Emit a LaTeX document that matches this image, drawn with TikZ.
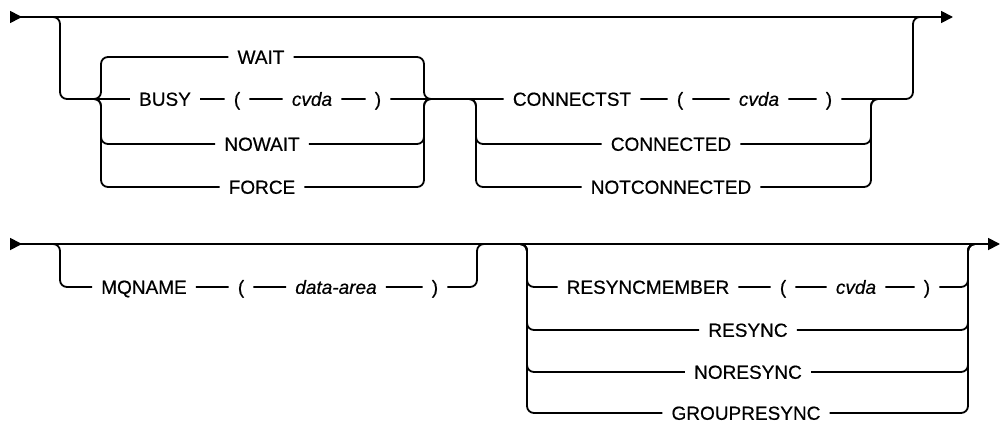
\documentclass[tikz,border=0pt]{standalone}
\usepackage{fontspec}
\setmainfont{Liberation Sans}[FakeBold=0.5]
\usepackage{tikz}
\usetikzlibrary{arrows.meta}
\tikzset{
  track/.style={line width=1.8pt, rounded corners=7pt},
  rail/.style={track, {Triangle[length=12pt, width=12pt, reversed]}-{Triangle[length=12pt, width=12pt]}},
  kw/.style={font=\fontsize{19}{22}\selectfont, inner xsep=9pt, inner ysep=1pt,
             text height=13.6pt, text depth=0pt},
  var/.style={kw, font=\fontsize{19}{22}\selectfont\itshape},
}

\begin{document}
\begin{tikzpicture}[x=1pt, y=-1pt]
  \useasboundingbox (0,0) rectangle (1002,423);

  % --- first row: junction points
  \coordinate (s1)   at (10,17);
  \coordinate (e1)   at (953,17);
  \coordinate (dn1)  at (60,99);
  \coordinate (c1a)  at (92,99);
  \coordinate (c1L)  at (101,99);
  \coordinate (c1R)  at (424,99);
  \coordinate (c1b)  at (433,99);
  \coordinate (c2a)  at (467,99);
  \coordinate (c2L)  at (476,99);
  \coordinate (c2R)  at (871,99);
  \coordinate (c2b)  at (880,99);
  \coordinate (up1)  at (913,17);
  \coordinate (up1b) at (922,17);

  \node[kw]  (wait)    at (261,57)  {WAIT};
  \node[kw]  (busy)    at (165,99)  {BUSY};
  \node[kw]  (lp1)     at (237,99)  {(};
  \node[var] (cv1)     at (312,99)  {cvda};
  \node[kw]  (rp1)     at (378,99)  {)};
  \node[kw]  (nowait)  at (262,144) {NOWAIT};
  \node[kw]  (force)   at (262,187) {FORCE};
  \node[kw]  (connst)  at (572,99)  {CONNECTST};
  \node[kw]  (lp2)     at (680,99)  {(};
  \node[var] (cv2)     at (759,99)  {cvda};
  \node[kw]  (rp2)     at (829,99)  {)};
  \node[kw]  (conn)    at (671,144) {CONNECTED};
  \node[kw]  (notconn) at (671,187) {NOTCONNECTED};

  \draw[rail]  (s1) -- (e1);
  \draw[track] (s1) -| (dn1) -- (c1a) -- (busy) -- (lp1) -- (cv1) -- (rp1) -- (c1b)
               -- (connst) -- (lp2) -- (cv2) -- (rp2) -| (up1) -- (up1b);
  \draw[track] (c1a) -- (c1L) |- (wait)    -| (c1R) -- (c1b);
  \draw[track] (c1a) -- (c1L) |- (nowait)  -| (c1R) -- (c1b);
  \draw[track] (c1a) -- (c1L) |- (force)   -| (c1R) -- (c1b);
  \draw[track] (c2a) -- (c2L) |- (conn)    -| (c2R) -- (c2b);
  \draw[track] (c2a) -- (c2L) |- (notconn) -| (c2R) -- (c2b);

  % --- second row
  \coordinate (s2)   at (10,244);
  \coordinate (e2)   at (1000,244);
  \coordinate (dn2)  at (60,287);
  \coordinate (up2)  at (477,244);
  \coordinate (up2b) at (486,244);
  \coordinate (c3a)  at (518,244);
  \coordinate (c3L)  at (527,244);
  \coordinate (c3R)  at (968,244);
  \coordinate (c3b)  at (977,244);

  \node[kw]  (mq)   at (144,287) {MQNAME};
  \node[kw]  (lp3)  at (241,287) {(};
  \node[var] (da)   at (336,287) {data-area};
  \node[kw]  (rp3)  at (435,287) {)};
  \node[kw]  (rsm)  at (648,287) {RESYNCMEMBER};
  \node[kw]  (lp4)  at (783,287) {(};
  \node[var] (cv4)  at (856,287) {cvda};
  \node[kw]  (rp4)  at (927,287) {)};
  \node[kw]  (rs)   at (748,330) {RESYNC};
  \node[kw]  (nrs)  at (748,372) {NORESYNC};
  \node[kw]  (grs)  at (746,413) {GROUPRESYNC};

  \draw[rail]  (s2) -- (e2);
  \draw[track] (s2) -| (dn2) -- (mq) -- (lp3) -- (da) -- (rp3) -| (up2) -- (up2b);
  \draw[track] (c3a) -- (c3L) |- (rsm) -- (lp4) -- (cv4) -- (rp4) -| (c3R) -- (c3b);
  \draw[track] (c3a) -- (c3L) |- (rs)  -| (c3R) -- (c3b);
  \draw[track] (c3a) -- (c3L) |- (nrs) -| (c3R) -- (c3b);
  \draw[track] (c3a) -- (c3L) |- (grs) -| (c3R) -- (c3b);
\end{tikzpicture}
\end{document}
